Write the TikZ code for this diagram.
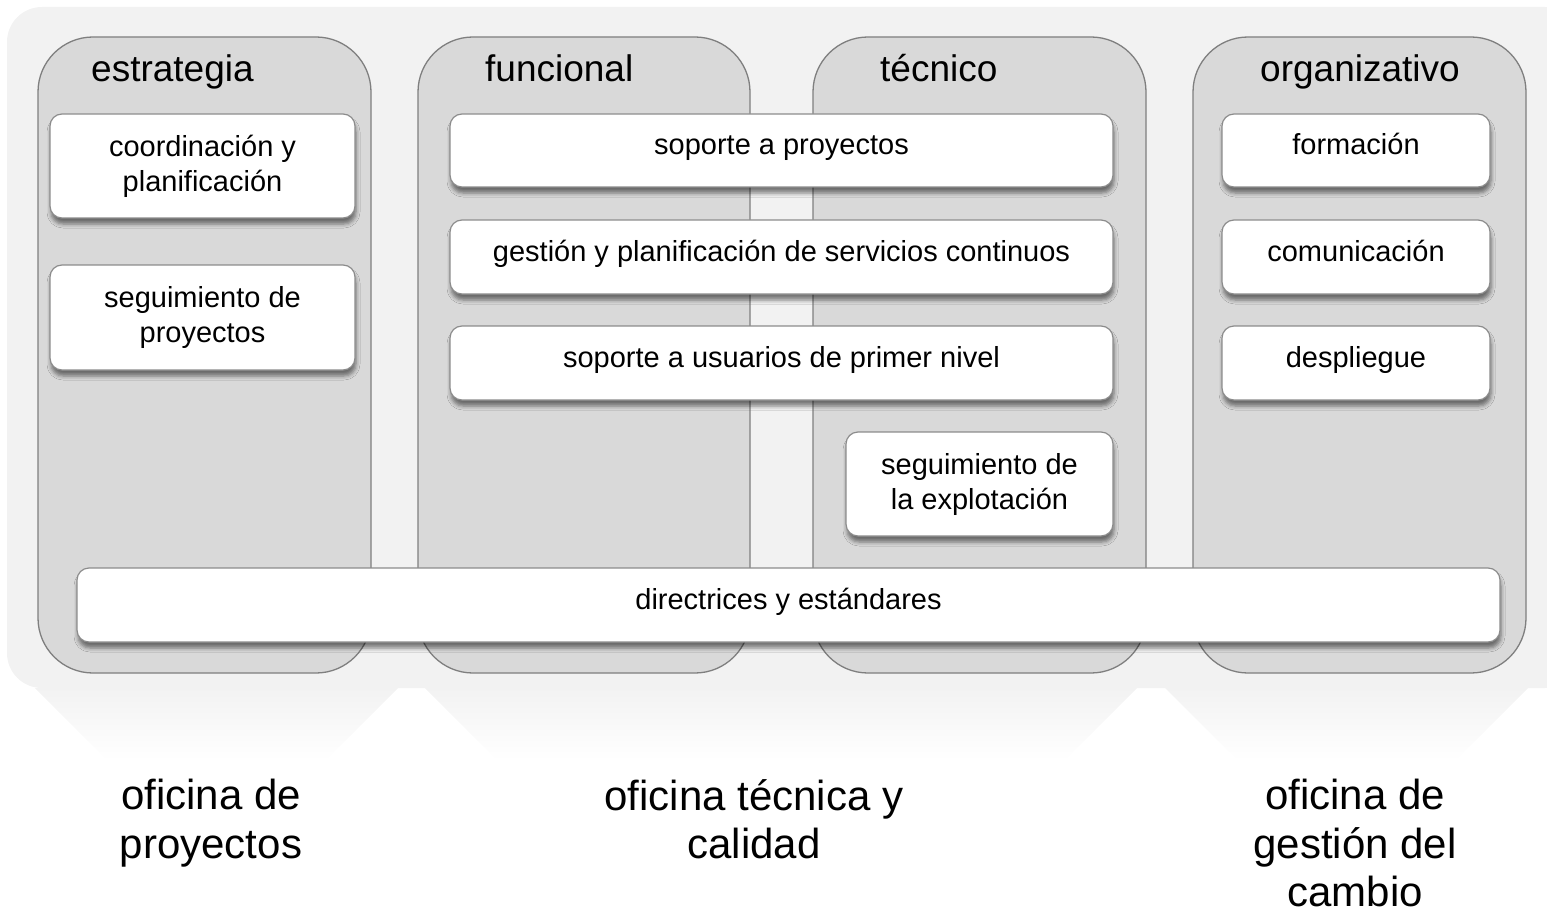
\documentclass[tikz,border=0pt]{standalone}
\usepackage{fontspec}
\setmainfont{Liberation Sans}
\usetikzlibrary{shadows.blur}

\definecolor{fondo}{HTML}{F2F2F2}
\definecolor{columna}{HTML}{D9D9D9}
\definecolor{borde}{HTML}{7F7F7F}

\tikzset{
	columna/.style={draw=borde, line width=1.3pt, fill=columna, rounded corners=55pt,
		rectangle, inner sep=0pt},
	caja/.style={draw=borde!90, line width=1.2pt, fill=white, rounded corners=12pt,
		rectangle, inner sep=0pt, align=center,
		font=\fontsize{29}{35}\selectfont,
		blur shadow={shadow xshift=1pt, shadow yshift=-6pt, shadow blur radius=4pt, shadow opacity=50}},
	linea/.style={caja, text height=21pt, text depth=12pt},
	cabecera/.style={anchor=base west, inner sep=0pt, font=\fontsize{37}{44}\selectfont},
	oficina/.style={anchor=north, inner sep=0pt, align=center, font=\fontsize{42}{48.5}\selectfont}
}

\begin{document}
\begin{tikzpicture}[x=1pt, y=-1pt]
	\useasboundingbox (0,0) rectangle (1547,912);
	\clip (0,0) rectangle (1547,912);

	%% fondo
	\fill[fondo, rounded corners=35pt] (7,7) rectangle (1580,688);
	\shade[top color=fondo, bottom color=white] (35,688) -- (398,688) -- (326,760) -- (107,760) -- cycle;
	\shade[top color=fondo, bottom color=white] (425,688) -- (1137,688) -- (1065,760) -- (497,760) -- cycle;
	\shade[top color=fondo, bottom color=white] (1165,688) -- (1528,688) -- (1456,760) -- (1237,760) -- cycle;

	%% columnas
	\node[columna, minimum width=333pt, minimum height=636pt] (estr) at (204.5,355) {};
	\node[columna, minimum width=332pt, minimum height=636pt] (func) at (584,355) {};
	\node[columna, minimum width=333pt, minimum height=636pt] (tecn) at (979.5,355) {};
	\node[columna, minimum width=333pt, minimum height=636pt] (orga) at (1359.5,355) {};

	\node[cabecera] (h1) at (91,82) {estrategia};
	\node[cabecera] (h2) at (485,82) {funcional};
	\node[cabecera] (h3) at (880,82) {técnico};
	\node[cabecera] (h4) at (1260,82) {organizativo};

	%% cajas
	\node[caja, minimum width=305pt, minimum height=104pt] (coord) at (202.5,166) {coordinación y\\planificación};
	\node[caja, minimum width=305pt, minimum height=105pt] (segp) at (202.5,317.5) {seguimiento de\\proyectos};

	\node[linea, minimum width=663pt, minimum height=73pt] (sopp) at (781.5,150.5) {soporte a proyectos};
	\node[linea, minimum width=663pt, minimum height=74pt] (gest) at (781.5,257) {gestión y planificación de servicios continuos};
	\node[linea, minimum width=663pt, minimum height=74pt] (sopu) at (781.5,363) {soporte a usuarios de primer nivel};
	\node[caja, minimum width=267pt, minimum height=104pt] (segx) at (979.5,484) {seguimiento de\\la explotación};

	\node[linea, minimum width=268pt, minimum height=73pt] (form) at (1356,150.5) {formación};
	\node[linea, minimum width=268pt, minimum height=74pt] (comu) at (1356,257) {comunicación};
	\node[linea, minimum width=268pt, minimum height=74pt] (desp) at (1356,363) {despliegue};

	\node[linea, minimum width=1423pt, minimum height=74pt] (dire) at (788.5,605) {directrices y estándares};

	%% oficinas
	\node[oficina] (of1) at (211,779) {oficina de\\proyectos};
	\node[oficina] (of2) at (754,779) {oficina técnica y\\calidad};
	\node[oficina] (of3) at (1355,779) {oficina de\\gestión del\\cambio};
\end{tikzpicture}
\end{document}
